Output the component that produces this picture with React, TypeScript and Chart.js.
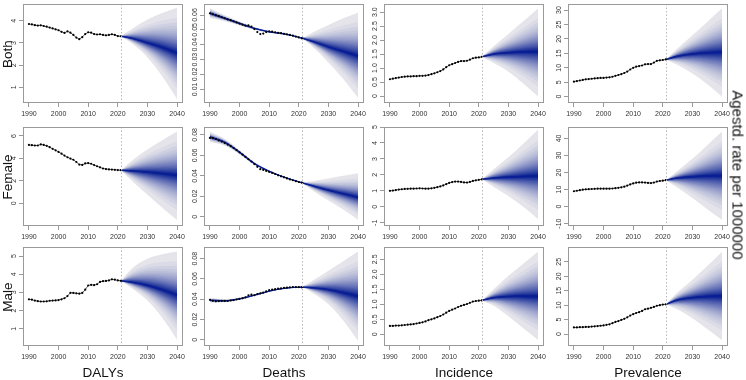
import React, { useEffect, useRef } from "react";
import { Chart, registerables } from "chart.js";

Chart.register(...registerables);

// ---------------- data ----------------
const obsYears = [1990,1991,1992,1993,1994,1995,1996,1997,1998,1999,2000,2001,2002,2003,2004,2005,2006,2007,2008,2009,2010,2011,2012,2013,2014,2015,2016,2017,2018,2019,2020,2021];
const fitYears = [1990, 1995, 2000, 2005, 2010, 2015, 2021];
const fcYears = [2021, 2025, 2030, 2035, 2040];
const xTickValues = [1990, 2000, 2010, 2020, 2030, 2040];
const xRange = [1988, 2042];
const projectionYear = 2021;

const rowNames = ["Both", "Female", "Male"];
const colNames = ["DALYs", "Deaths", "Incidence", "Prevalence"];
const sideTitle = "Agestd. rate per 1000000";

// Both
const dalysBothObs = [3.85,3.83,3.80,3.78,3.79,3.76,3.73,3.69,3.65,3.61,3.57,3.50,3.45,3.52,3.46,3.36,3.24,3.17,3.26,3.40,3.48,3.46,3.40,3.38,3.39,3.36,3.34,3.36,3.39,3.36,3.31,3.30];
const dalysBothMed = [3.30,3.20,3.00,2.80,2.55];
const dalysBothHi = [3.30,3.65,4.05,4.35,4.58];
const dalysBothLo = [3.30,2.95,2.35,1.50,0.47];
const dalysBothTicks = ["1","2","3","4"];
const dalysBothRange = [0.30, 4.75];

const deathsBothObs = [0.0611,0.0605,0.0598,0.0592,0.0585,0.0578,0.0571,0.0565,0.0558,0.0550,0.0542,0.0535,0.0528,0.0530,0.0522,0.0505,0.0485,0.0472,0.0475,0.0485,0.0490,0.0488,0.0484,0.0480,0.0478,0.0474,0.0470,0.0466,0.0461,0.0455,0.0449,0.0443];
const deathsBothFitMed = [0.0612,0.0578,0.0543,0.0510,0.0487,0.0473,0.0445];
const deathsBothFitHi = [0.0645,0.0598,0.0556,0.0520,0.0494,0.0480,0.0450];
const deathsBothFitLo = [0.0580,0.0558,0.0530,0.0500,0.0480,0.0466,0.0440];
const deathsBothMed = [0.0445,0.0420,0.0385,0.0355,0.0325];
const deathsBothHi = [0.0450,0.0485,0.0533,0.0578,0.0616];
const deathsBothLo = [0.0440,0.0380,0.0280,0.0170,0.0044];
const deathsBothTicks = ["0.01","0.02","0.03","0.04","0.05","0.06"];
const deathsBothRange = [0.0008, 0.0674];

const incBothObs = [0.60,0.62,0.64,0.66,0.68,0.69,0.70,0.70,0.71,0.71,0.72,0.72,0.73,0.75,0.78,0.81,0.85,0.89,0.95,1.03,1.10,1.14,1.18,1.22,1.25,1.25,1.26,1.30,1.35,1.37,1.38,1.40];
const incBothMed = [1.40,1.50,1.55,1.58,1.59];
const incBothHi = [1.40,1.78,2.22,2.67,3.13];
const incBothLo = [1.40,1.18,0.87,0.45,-0.02];
const incBothTicks = ["0","0.5","1.0","1.5","2.0","2.5","3.0"];
const incBothRange = [-0.25, 3.29];

const prevBothObs = [5.2,5.4,5.6,5.8,6.0,6.1,6.2,6.3,6.4,6.5,6.5,6.6,6.7,6.9,7.2,7.5,7.8,8.2,8.7,9.4,10.0,10.4,10.6,10.8,11.2,11.3,11.3,11.8,12.4,12.6,12.7,12.9];
const prevBothMed = [12.9,14.0,14.8,15.2,15.4];
const prevBothHi = [12.9,16.8,21.3,25.9,30.6];
const prevBothLo = [12.9,11.0,8.0,4.3,0.0];
const prevBothTicks = ["0","5","10","15","20","25","30"];
const prevBothRange = [-2.2, 32.1];

// Female
const dalysFemObs = [5.20,5.18,5.15,5.15,5.25,5.20,5.12,5.00,4.85,4.72,4.58,4.42,4.25,4.10,3.98,3.88,3.68,3.45,3.42,3.55,3.58,3.52,3.40,3.30,3.20,3.10,3.05,3.02,3.00,2.98,2.96,2.95];
const dalysFemMed = [2.95,2.88,2.78,2.65,2.50];
const dalysFemHi = [2.95,3.85,4.80,5.62,6.40];
const dalysFemLo = [2.95,1.95,0.75,-0.40,-1.50];
const dalysFemTicks = ["0","2","4","6"];
const dalysFemRange = [-2.03, 6.8];

const deathsFemObs = [0.0770,0.0768,0.0760,0.0745,0.0735,0.0720,0.0705,0.0690,0.0672,0.0652,0.0630,0.0608,0.0585,0.0562,0.0540,0.0515,0.0488,0.0465,0.0458,0.0448,0.0438,0.0428,0.0418,0.0405,0.0395,0.0385,0.0375,0.0365,0.0357,0.0348,0.0340,0.0333];
const deathsFemFitMed = [0.0780,0.0728,0.0630,0.0520,0.0445,0.0388,0.0333];
const deathsFemFitHi = [0.0830,0.0760,0.0650,0.0535,0.0455,0.0395,0.0338];
const deathsFemFitLo = [0.0730,0.0695,0.0610,0.0505,0.0435,0.0381,0.0328];
const deathsFemMed = [0.0333,0.0300,0.0260,0.0225,0.0190];
const deathsFemHi = [0.0338,0.0350,0.0375,0.0400,0.0425];
const deathsFemLo = [0.0328,0.0250,0.0160,0.0070,-0.0030];
const deathsFemTicks = ["0","0.02","0.04","0.06","0.08"];
const deathsFemRange = [-0.009, 0.0877];

const incFemObs = [1.00,1.02,1.05,1.08,1.10,1.12,1.13,1.14,1.14,1.15,1.16,1.15,1.14,1.14,1.16,1.19,1.23,1.28,1.34,1.42,1.50,1.55,1.58,1.58,1.56,1.53,1.52,1.56,1.62,1.66,1.69,1.72];
const incFemMed = [1.72,1.80,1.86,1.90,1.93];
const incFemHi = [1.72,2.35,3.10,3.95,4.82];
const incFemLo = [1.72,1.25,0.68,0.00,-0.77];
const incFemTicks = ["-1","0","1","2","3","4","5"];
const incFemRange = [-1.2, 5.0];

const prevFemObs = [9.0,9.3,9.6,9.9,10.1,10.2,10.3,10.4,10.5,10.5,10.5,10.5,10.5,10.6,10.8,11.0,11.3,11.7,12.3,13.0,13.6,14.0,14.2,14.2,14.1,13.9,13.8,14.1,14.7,15.0,15.2,15.5];
const prevFemMed = [15.5,16.8,17.5,18.0,18.2];
const prevFemHi = [15.5,21.0,28.0,36.0,44.0];
const prevFemLo = [15.5,11.0,5.0,-1.5,-7.8];
const prevFemTicks = ["-10","0","10","20","30","40"];
const prevFemRange = [-11.4, 46.7];

// Male
const dalysMaleObs = [2.62,2.60,2.55,2.52,2.50,2.50,2.51,2.54,2.55,2.56,2.58,2.62,2.68,2.80,2.98,2.97,2.95,2.93,2.97,3.15,3.38,3.42,3.40,3.45,3.58,3.62,3.63,3.66,3.72,3.70,3.66,3.64];
const dalysMaleMed = [3.64,3.55,3.38,3.14,2.85];
const dalysMaleHi = [3.64,4.35,4.85,5.10,5.25];
const dalysMaleLo = [3.64,3.20,2.55,1.60,0.40];
const dalysMaleTicks = ["1","2","3","4","5"];
const dalysMaleRange = [0.05, 5.5];

const deathsMaleObs = [0.0395,0.0385,0.0380,0.0382,0.0385,0.0384,0.0383,0.0388,0.0392,0.0398,0.0405,0.0410,0.0418,0.0440,0.0445,0.0440,0.0450,0.0458,0.0465,0.0478,0.0490,0.0495,0.0500,0.0505,0.0508,0.0512,0.0515,0.0518,0.0520,0.0520,0.0520,0.0518];
const deathsMaleFitMed = [0.0390,0.0385,0.0405,0.0440,0.0480,0.0508,0.0520];
const deathsMaleFitHi = [0.0412,0.0400,0.0415,0.0448,0.0488,0.0515,0.0527];
const deathsMaleFitLo = [0.0368,0.0370,0.0395,0.0432,0.0472,0.0501,0.0513];
const deathsMaleMed = [0.0520,0.0512,0.0495,0.0465,0.0430];
const deathsMaleHi = [0.0527,0.0590,0.0680,0.0775,0.0870];
const deathsMaleLo = [0.0513,0.0455,0.0350,0.0190,-0.0010];
const deathsMaleTicks = ["0","0.02","0.04","0.06","0.08"];
const deathsMaleRange = [-0.006, 0.0915];

const incMaleObs = [0.28,0.28,0.29,0.29,0.30,0.31,0.32,0.33,0.34,0.36,0.38,0.40,0.43,0.47,0.50,0.53,0.57,0.61,0.66,0.72,0.78,0.82,0.86,0.91,0.95,0.98,1.01,1.05,1.09,1.11,1.12,1.13];
const incMaleMed = [1.13,1.22,1.26,1.27,1.26];
const incMaleHi = [1.13,1.50,1.95,2.35,2.76];
const incMaleLo = [1.13,0.95,0.60,0.20,-0.19];
const incMaleTicks = ["0","0.5","1.0","1.5","2.0","2.5"];
const incMaleRange = [-0.39, 2.91];

const prevMaleObs = [2.3,2.3,2.4,2.4,2.5,2.5,2.6,2.7,2.8,2.9,3.0,3.2,3.4,3.8,4.2,4.5,4.9,5.3,5.8,6.4,6.9,7.3,7.6,8.0,8.6,8.8,9.1,9.4,9.8,10.0,10.2,10.3];
const prevMaleMed = [10.3,11.8,12.6,13.0,13.1];
const prevMaleHi = [10.3,14.5,18.8,23.5,28.5];
const prevMaleLo = [10.3,8.5,5.5,1.8,-2.1];
const prevMaleTicks = ["0","5","10","15","20","25"];
const prevMaleRange = [-4.1, 30.1];

type PanelData = {
  obs: number[]; med: number[]; hi: number[]; lo: number[];
  fitMed?: number[]; fitHi?: number[]; fitLo?: number[];
  ticks: string[]; range: number[]; dotsOnly?: boolean;
};

const panels: PanelData[][] = [
  [
    { obs: dalysBothObs, med: dalysBothMed, hi: dalysBothHi, lo: dalysBothLo, ticks: dalysBothTicks, range: dalysBothRange },
    { obs: deathsBothObs, med: deathsBothMed, hi: deathsBothHi, lo: deathsBothLo, fitMed: deathsBothFitMed, fitHi: deathsBothFitHi, fitLo: deathsBothFitLo, ticks: deathsBothTicks, range: deathsBothRange, dotsOnly: true },
    { obs: incBothObs, med: incBothMed, hi: incBothHi, lo: incBothLo, ticks: incBothTicks, range: incBothRange },
    { obs: prevBothObs, med: prevBothMed, hi: prevBothHi, lo: prevBothLo, ticks: prevBothTicks, range: prevBothRange },
  ],
  [
    { obs: dalysFemObs, med: dalysFemMed, hi: dalysFemHi, lo: dalysFemLo, ticks: dalysFemTicks, range: dalysFemRange },
    { obs: deathsFemObs, med: deathsFemMed, hi: deathsFemHi, lo: deathsFemLo, fitMed: deathsFemFitMed, fitHi: deathsFemFitHi, fitLo: deathsFemFitLo, ticks: deathsFemTicks, range: deathsFemRange, dotsOnly: true },
    { obs: incFemObs, med: incFemMed, hi: incFemHi, lo: incFemLo, ticks: incFemTicks, range: incFemRange },
    { obs: prevFemObs, med: prevFemMed, hi: prevFemHi, lo: prevFemLo, ticks: prevFemTicks, range: prevFemRange },
  ],
  [
    { obs: dalysMaleObs, med: dalysMaleMed, hi: dalysMaleHi, lo: dalysMaleLo, ticks: dalysMaleTicks, range: dalysMaleRange },
    { obs: deathsMaleObs, med: deathsMaleMed, hi: deathsMaleHi, lo: deathsMaleLo, fitMed: deathsMaleFitMed, fitHi: deathsMaleFitHi, fitLo: deathsMaleFitLo, ticks: deathsMaleTicks, range: deathsMaleRange, dotsOnly: true },
    { obs: incMaleObs, med: incMaleMed, hi: incMaleHi, lo: incMaleLo, ticks: incMaleTicks, range: incMaleRange },
    { obs: prevMaleObs, med: prevMaleMed, hi: prevMaleHi, lo: prevMaleLo, ticks: prevMaleTicks, range: prevMaleRange },
  ],
];

// ---------------- layout / style ----------------
const FONT = "'Liberation Sans', Arial, Helvetica, sans-serif";
const colBoxLeft = [23, 204, 384, 568];
const rowBoxTop = [4, 127, 247];
const BOX_W = 160;
const BOX_H = 99;
const YAX_W = 24;
const XAX_H = 24;
const PAD_T = 4;
const PAD_R = 8;
const CW = YAX_W + BOX_W + PAD_R;
const CH = PAD_T + BOX_H + XAX_H;
const TICK_FONT = 7;
const TICK_LEN = 4;
const Y_LABEL_OFFSET = 8.5;

// fan levels (normal quantiles, outermost = 99%)
function qnorm(p: number): number {
  const a = [-3.969683028665376e1, 2.209460984245205e2, -2.759285104469687e2, 1.38357751867269e2, -3.066479806614716e1, 2.506628277459239];
  const b = [-5.447609879822406e1, 1.615858368580409e2, -1.556989798598866e2, 6.680131188771972e1, -1.328068155288572e1];
  const c = [-7.784894002430293e-3, -3.223964580411365e-1, -2.400758277161838, -2.549732539343734, 4.374664141464968, 2.938163982698783];
  const d = [7.784695709041462e-3, 3.224671290700398e-1, 2.445134137142996, 3.754408362984995];
  const pl = 0.02425;
  if (p < pl) {
    const q = Math.sqrt(-2 * Math.log(p));
    return (((((c[0] * q + c[1]) * q + c[2]) * q + c[3]) * q + c[4]) * q + c[5]) / ((((d[0] * q + d[1]) * q + d[2]) * q + d[3]) * q + 1);
  }
  if (p <= 1 - pl) {
    const q = p - 0.5, r = q * q;
    return (((((a[0] * r + a[1]) * r + a[2]) * r + a[3]) * r + a[4]) * r + a[5]) * q / (((((b[0] * r + b[1]) * r + b[2]) * r + b[3]) * r + b[4]) * r + 1);
  }
  const q = Math.sqrt(-2 * Math.log(1 - p));
  return -(((((c[0] * q + c[1]) * q + c[2]) * q + c[3]) * q + c[4]) * q + c[5]) / ((((d[0] * q + d[1]) * q + d[2]) * q + d[3]) * q + 1);
}
const LEVELS = 20;
const zMax = qnorm(0.99);
const fanFractions = Array.from({ length: LEVELS }, (_, i) => qnorm(0.5 + 0.49 * (i + 1) / LEVELS) / zMax);
const DARK = [8, 30, 145];
const LIGHT = [228, 228, 234];
const fanColors = fanFractions.map((_, i) => {
  const t = Math.pow(i / (LEVELS - 1), 0.9);
  const c = DARK.map((v, j) => Math.round(v + (LIGHT[j] - v) * t));
  return `rgb(${c[0]},${c[1]},${c[2]})`;
});

const decorPlugin = {
  id: "decor",
  afterDatasetsDraw(chart: any) {
    const { ctx, chartArea: a, scales } = chart;
    const px = Math.round(scales.x.getPixelForValue(projectionYear)) + 0.5;
    ctx.save();
    ctx.strokeStyle = "#b8b8b8";
    ctx.lineWidth = 1;
    ctx.setLineDash([1.5, 2]);
    ctx.beginPath();
    ctx.moveTo(px, a.top);
    ctx.lineTo(px, a.bottom);
    ctx.stroke();
    ctx.setLineDash([]);
    ctx.strokeStyle = "#9a9a9a";
    ctx.strokeRect(a.left + 0.5, a.top + 0.5, a.right - a.left - 1, a.bottom - a.top - 1);
    ctx.restore();
  },
};

let measureCtx: CanvasRenderingContext2D | null = null;
function textWidth(s: string): number {
  if (!measureCtx) measureCtx = document.createElement("canvas").getContext("2d");
  measureCtx!.font = `${TICK_FONT}px ${FONT}`;
  return measureCtx!.measureText(s).width;
}

function buildConfig(p: PanelData): any {
  const hasFit = !!p.fitMed;
  const xs = hasFit ? [...fitYears, ...fcYears.slice(1)] : fcYears;
  const med = hasFit ? [...p.fitMed!, ...p.med.slice(1)] : p.med;
  const hi = hasFit ? [...p.fitHi!, ...p.hi.slice(1)] : p.hi;
  const lo = hasFit ? [...p.fitLo!, ...p.lo.slice(1)] : p.lo;

  const datasets: any[] = [];
  datasets.push({
    data: obsYears.map((x, i) => ({ x, y: p.obs[i] })),
    showLine: !p.dotsOnly,
    borderColor: "#5a5a5a",
    borderWidth: 1,
    pointRadius: 1.1,
    pointBackgroundColor: "#000",
    pointBorderWidth: 0,
    fill: false,
    order: 0,
  });
  datasets.push({
    data: xs.map((x, i) => ({ x, y: med[i] })),
    borderColor: "#0a1f95",
    borderWidth: 1.3,
    pointRadius: 0,
    fill: false,
    cubicInterpolationMode: "monotone",
    order: 1,
  });
  for (let k = LEVELS; k >= 1; k--) {
    const f = fanFractions[k - 1];
    const lowerIdx = datasets.length;
    datasets.push({
      data: xs.map((x, i) => ({ x, y: med[i] - f * (med[i] - lo[i]) })),
      borderWidth: 0,
      pointRadius: 0,
      fill: false,
      cubicInterpolationMode: "monotone",
      order: 10 + k * 2 + 1,
    });
    datasets.push({
      data: xs.map((x, i) => ({ x, y: med[i] + f * (hi[i] - med[i]) })),
      borderWidth: 0,
      pointRadius: 0,
      backgroundColor: fanColors[k - 1],
      fill: { target: lowerIdx },
      cubicInterpolationMode: "monotone",
      order: 10 + k * 2,
    });
  }

  const widest = Math.max(...p.ticks.map(textWidth));
  const yPad = Y_LABEL_OFFSET - TICK_LEN - widest / 2;

  return {
    type: "line",
    data: { datasets },
    plugins: [decorPlugin],
    options: {
      animation: false,
      responsive: false,
      maintainAspectRatio: false,
      devicePixelRatio: 1,
      events: [],
      layout: { padding: { left: 0, top: PAD_T, right: PAD_R, bottom: 0 } },
      plugins: { legend: { display: false }, tooltip: { enabled: false }, filler: { propagate: false } },
      scales: {
        x: {
          type: "linear",
          min: xRange[0],
          max: xRange[1],
          bounds: "data",
          afterBuildTicks: (s: any) => { s.ticks = xTickValues.map((v) => ({ value: v })); },
          afterFit: (s: any) => { s.height = XAX_H; s.paddingLeft = 0; s.paddingRight = 0; },
          ticks: {
            autoSkip: false, maxRotation: 0, minRotation: 0, padding: 2.5,
            font: { family: FONT, size: TICK_FONT }, color: "#333",
            callback: (v: any) => String(v),
          },
          grid: { drawOnChartArea: false, drawTicks: true, tickLength: TICK_LEN, color: "#9a9a9a" },
          border: { display: false },
        },
        y: {
          type: "linear",
          min: p.range[0],
          max: p.range[1],
          bounds: "data",
          afterBuildTicks: (s: any) => { s.ticks = p.ticks.map((t) => ({ value: Number(t) })); },
          afterFit: (s: any) => { s.width = YAX_W; s.paddingTop = 0; s.paddingBottom = 0; },
          ticks: {
            autoSkip: false, minRotation: 90, maxRotation: 90, crossAlign: "center", padding: yPad,
            font: { family: FONT, size: TICK_FONT }, color: "#333",
            callback: (_v: any, i: number) => p.ticks[i],
          },
          grid: { drawOnChartArea: false, drawTicks: true, tickLength: TICK_LEN, color: "#9a9a9a" },
          border: { display: false },
        },
      },
    },
  };
}

function PanelChart({ p, left, top }: { p: PanelData; left: number; top: number }) {
  const ref = useRef<HTMLCanvasElement>(null);
  useEffect(() => {
    const chart = new Chart(ref.current as HTMLCanvasElement, buildConfig(p));
    return () => chart.destroy();
  }, [p]);
  return (
    <canvas
      ref={ref}
      width={CW}
      height={CH}
      style={{ position: "absolute", left, top, width: CW, height: CH }}
    />
  );
}

const textBase: React.CSSProperties = {
  position: "absolute",
  fontFamily: FONT,
  color: "#111",
  whiteSpace: "nowrap",
  lineHeight: 1,
};

export default function App() {
  return (
    <div style={{ position: "absolute", left: 0, top: 0, width: 746, height: 380, background: "#fff", overflow: "hidden" }}>
      {panels.map((row, r) =>
        row.map((p, c) => (
          <PanelChart key={`${r}-${c}`} p={p} left={colBoxLeft[c] - YAX_W} top={rowBoxTop[r] - PAD_T} />
        ))
      )}
      {rowNames.map((name, r) => (
        <div
          key={name}
          style={{ ...textBase, fontSize: 13.5, left: 7.5, top: rowBoxTop[r] + BOX_H / 2, transform: "translate(-50%, -50%) rotate(-90deg)" }}
        >
          {name}
        </div>
      ))}
      {colNames.map((name, c) => (
        <div
          key={name}
          style={{ ...textBase, fontSize: 13.5, left: colBoxLeft[c] + BOX_W / 2, top: 373, transform: "translate(-50%, -50%)" }}
        >
          {name}
        </div>
      ))}
      <div style={{ ...textBase, fontSize: 15, left: 738, top: 175, transform: "translate(-50%, -50%) rotate(90deg)" }}>
        {sideTitle}
      </div>
    </div>
  );
}
